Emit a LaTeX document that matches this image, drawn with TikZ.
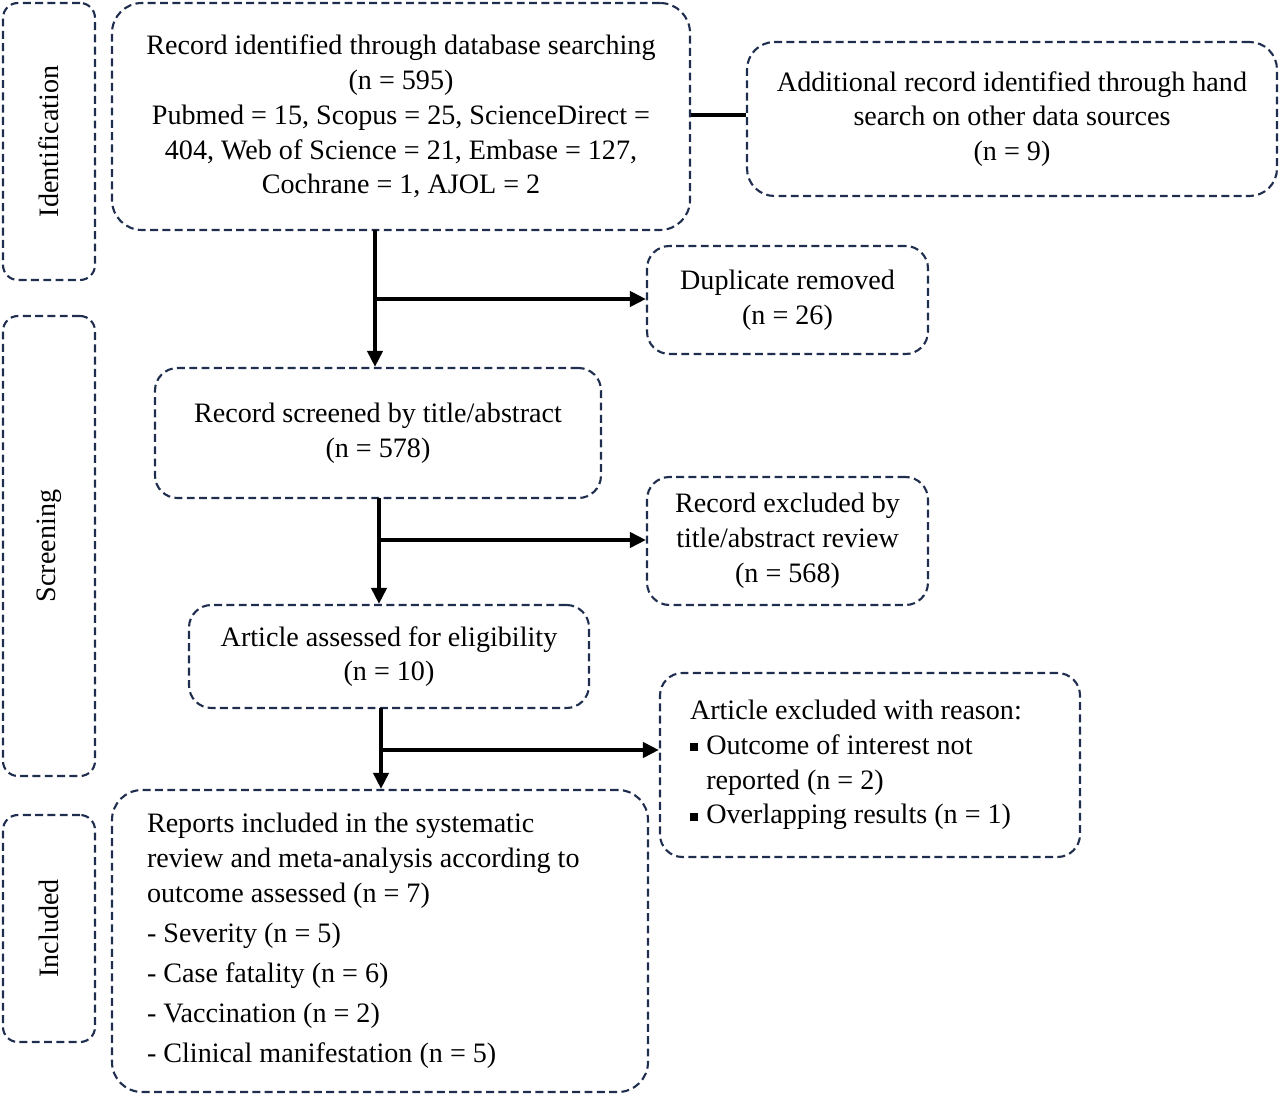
\documentclass[tikz,border=0pt]{standalone}
\usepackage{fontspec}
\setmainfont{Liberation Serif}
\usetikzlibrary{arrows.meta}
\definecolor{boxnavy}{HTML}{1F2E4E}
\newcommand{\sqbul}{\raisebox{0.25ex}{\rule{0.28em}{0.28em}}\hspace{0.3em}}
\begin{document}
\begin{tikzpicture}
            \tikzstyle{box}=[draw=boxnavy, line width=1.2pt, dash pattern=on 4.5pt off 2.5pt, rounded corners=0.45cm, align=center, inner sep=0pt, font=\fontsize{16}{19.8}\selectfont]
            \tikzstyle{phase}=[box, rounded corners=0.3cm, minimum width=1.84cm]
            \tikzstyle{flow}=[line width=2.2pt, -{Triangle[length=0.32cm, width=0.3cm]}]
            \useasboundingbox (0,0) rectangle (25.6,-21.92);
            % phase labels
            \node[phase, minimum height=5.54cm] (I) at (0.98,-2.83) {};
            \node[phase, minimum height=9.2cm] (S) at (0.98,-10.92) {};
            \node[phase, minimum height=4.54cm] (In) at (0.98,-18.57) {};
            \node[rotate=90, font=\fontsize{16}{19.8}\selectfont] (Il) at (I) {Identification};
            \node[rotate=90, font=\fontsize{16}{19.8}\selectfont] (Sl) at (S) {Screening};
            \node[rotate=90, font=\fontsize{16}{19.8}\selectfont] (Inl) at (In) {Included};
            % boxes
            \node[box, rounded corners=0.6cm, minimum width=11.56cm, minimum height=4.54cm] (db) at (8.02,-2.33) {Record identified through database searching\\(n = 595)\\Pubmed = 15, Scopus = 25, ScienceDirect =\\404, Web of Science = 21, Embase = 127,\\Cochrane = 1, AJOL = 2};
            \node[box, rounded corners=0.55cm, minimum width=10.6cm, minimum height=3.08cm] (hs) at (20.24,-2.38) {Additional record identified through hand\\search on other data sources\\(n = 9)};
            \node[box, minimum width=5.62cm, minimum height=2.16cm] (dup) at (15.75,-6.0) {Duplicate removed\\(n = 26)};
            \node[box, minimum width=8.92cm, minimum height=2.6cm] (scr) at (7.56,-8.66) {Record screened by title/abstract\\(n = 578)};
            \node[box, minimum width=5.62cm, minimum height=2.56cm] (exc) at (15.75,-10.82) {Record excluded by\\title/abstract review\\(n = 568)};
            \node[box, minimum width=8.0cm, minimum height=2.06cm] (elg) at (7.78,-13.13) {Article assessed for eligibility\\(n = 10)};
            \node[box, minimum width=8.4cm, minimum height=3.68cm, text width=7.2cm, align=flush left] (rsn) at (17.4,-15.3) {Article excluded with reason:\\\sqbul Outcome of interest not\\\hspace*{0.58em}reported (n = 2)\\\sqbul Overlapping results (n = 1)};
            \node[box, rounded corners=0.6cm, minimum width=10.72cm, minimum height=6.04cm, text width=9.32cm, align=flush left] (inc) at (7.6,-18.82) {Reports included in the systematic\\review and meta-analysis according to\\outcome assessed (n = 7)\\[3pt]- Severity (n = 5)\\[3pt]- Case fatality (n = 6)\\[3pt]- Vaccination (n = 2)\\[3pt]- Clinical manifestation (n = 5)};
            % connectors
            \coordinate (d1) at (7.5,-4.6);
            \coordinate (b1) at (7.5,-5.98);
            \coordinate (d2) at (7.58,-9.96);
            \coordinate (b2) at (7.58,-10.8);
            \coordinate (d3) at (7.62,-14.16);
            \coordinate (b3) at (7.62,-15.0);
            \draw[line width=2.2pt] (db.east |- 0,-2.3) -- (hs.west |- 0,-2.3);
            \path[flow] (d1) edge (d1 |- scr.north);
            \path[flow] (b1) edge (b1 -| dup.west);
            \path[flow] (d2) edge (d2 |- elg.north);
            \path[flow] (b2) edge (b2 -| exc.west);
            \path[flow] (d3) edge (d3 |- inc.north);
            \path[flow] (b3) edge (b3 -| rsn.west);
\end{tikzpicture}
\end{document}
